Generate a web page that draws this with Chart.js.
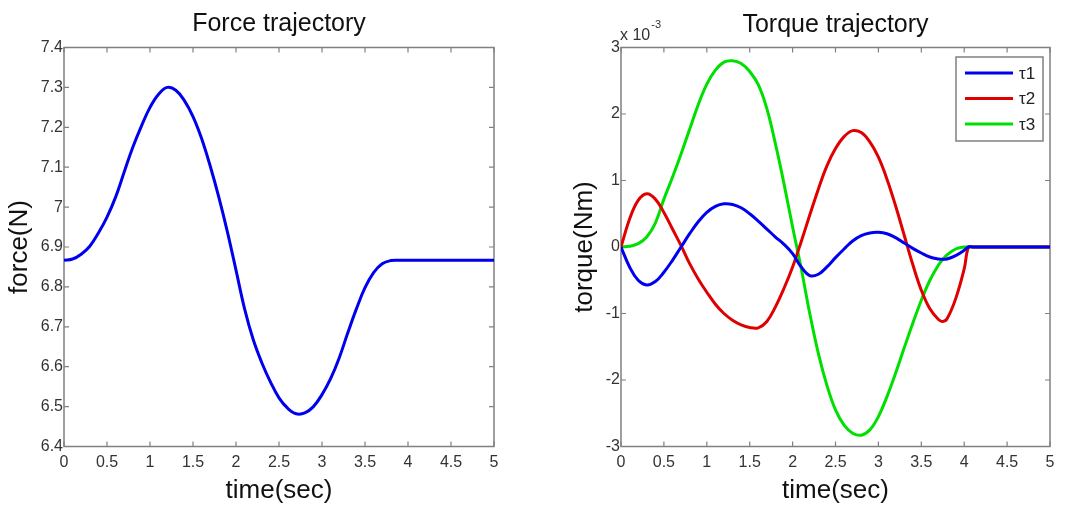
<!DOCTYPE html>
<html>
<head>
<meta charset="utf-8">
<script src="https://cdn.jsdelivr.net/npm/chart.js@4.4.1/dist/chart.umd.min.js"></script>
<style>
  html, body { margin: 0; padding: 0; background: #fff; }
  #wrap { position: relative; width: 1067px; height: 507px; }
  .box { position: absolute; top: 0; height: 507px; }
</style>
</head>
<body>
<div id="wrap">
  <div class="box" style="left:0;width:533px"><canvas id="graficoForca"></canvas></div>
  <div class="box" style="left:533px;width:534px"><canvas id="graficoTorque"></canvas></div>
</div>
<script>
// valores
const forceTime = [0, 0.1, 0.2, 0.3, 0.4, 0.5, 0.6, 0.7, 0.8, 0.9, 1.0, 1.1, 1.2, 1.3, 1.4, 1.5, 1.6, 1.7, 1.8, 1.9,
  2.0, 2.1, 2.2, 2.3, 2.4, 2.5, 2.6, 2.7, 2.8, 2.9, 3.0, 3.1, 3.2, 3.3, 3.4, 3.5, 3.6, 3.7, 3.8, 3.9,
  4.0, 4.1, 4.2, 4.3, 4.4, 4.5, 4.6, 4.7, 4.8, 4.9, 5.0];
const forceN = [6.867, 6.870, 6.882, 6.902, 6.935, 6.975, 7.025, 7.088, 7.150, 7.203, 7.250, 7.283, 7.300, 7.293, 7.267, 7.227, 7.172, 7.103, 7.025, 6.938,
  6.842, 6.745, 6.668, 6.610, 6.562, 6.522, 6.496, 6.482, 6.484, 6.500, 6.530, 6.570, 6.622, 6.685, 6.745, 6.798, 6.836, 6.858, 6.866, 6.867,
  6.867, 6.867, 6.867, 6.867, 6.867, 6.867, 6.867, 6.867, 6.867, 6.867, 6.867];

const torqueTime = [0, 0.1, 0.2, 0.3, 0.4, 0.5, 0.6, 0.7, 0.8, 0.9, 1.0, 1.1, 1.2, 1.3, 1.4, 1.5, 1.6, 1.7, 1.8, 1.9,
  2.0, 2.1, 2.2, 2.3, 2.4, 2.5, 2.6, 2.7, 2.8, 2.9, 3.0, 3.1, 3.2, 3.3, 3.4, 3.5, 3.6, 3.7, 3.75, 3.8, 3.9,
  4.0, 4.05, 4.1, 4.2, 4.3, 4.4, 4.5, 4.6, 4.7, 4.8, 4.9, 5.0];
// em unidades de 10^-3 Nm
const tau1 = [0, -0.30, -0.50, -0.57, -0.52, -0.38, -0.20, 0.00, 0.20, 0.38, 0.52, 0.61, 0.65, 0.64, 0.59, 0.50, 0.39, 0.27, 0.15, 0.04,
  -0.10, -0.30, -0.43, -0.41, -0.30, -0.16, -0.03, 0.09, 0.17, 0.21, 0.22, 0.20, 0.14, 0.06, -0.02, -0.09, -0.15, -0.18, -0.185, -0.18, -0.13,
  -0.05, 0, 0, 0, 0, 0, 0, 0, 0, 0, 0, 0];
const tau2 = [0, 0.42, 0.70, 0.80, 0.72, 0.52, 0.27, 0.02, -0.25, -0.48, -0.68, -0.86, -1.00, -1.10, -1.17, -1.21, -1.215, -1.12, -0.90, -0.62,
  -0.30, 0.08, 0.48, 0.87, 1.22, 1.48, 1.66, 1.75, 1.72, 1.58, 1.35, 1.02, 0.62, 0.18, -0.26, -0.65, -0.93, -1.09, -1.12, -1.08, -0.78,
  -0.33, 0, 0, 0, 0, 0, 0, 0, 0, 0, 0, 0];
const tau3 = [0, 0.01, 0.05, 0.15, 0.36, 0.72, 1.05, 1.40, 1.77, 2.14, 2.45, 2.66, 2.78, 2.80, 2.76, 2.64, 2.44, 2.08, 1.55, 0.95,
  0.30, -0.32, -1.00, -1.60, -2.08, -2.45, -2.68, -2.80, -2.83, -2.75, -2.55, -2.25, -1.90, -1.52, -1.15, -0.80, -0.50, -0.27, -0.19, -0.12, -0.03,
  0, 0, 0, 0, 0, 0, 0, 0, 0, 0, 0, 0];

const timeTicks = [0, 0.5, 1, 1.5, 2, 2.5, 3, 3.5, 4, 4.5, 5];
const forceTicks = [6.4, 6.5, 6.6, 6.7, 6.8, 6.9, 7, 7.1, 7.2, 7.3, 7.4];
const torqueTicks = [-3, -2, -1, 0, 1, 2, 3];
const torqueLabels = ["τ1", "τ2", "τ3"];

Chart.defaults.font.family = "'Liberation Sans', Arial, sans-serif";
Chart.defaults.color = "#333";

const FRAME = "#808080";

// moldura com marcas para dentro, estilo matlab
const moldura = {
  id: "moldura",
  beforeDatasetsDraw(chart) {
    const { ctx, chartArea: a, scales } = chart;
    ctx.save();
    ctx.strokeStyle = FRAME;
    ctx.lineWidth = 1.5;
    ctx.strokeRect(a.left, a.top, a.right - a.left, a.bottom - a.top);
    ctx.lineWidth = 1.2;
    ctx.beginPath();
    scales.x.ticks.forEach(t => {
      const px = scales.x.getPixelForValue(t.value);
      ctx.moveTo(px, a.bottom); ctx.lineTo(px, a.bottom - 5);
      ctx.moveTo(px, a.top); ctx.lineTo(px, a.top + 5);
    });
    scales.y.ticks.forEach(t => {
      const py = scales.y.getPixelForValue(t.value);
      ctx.moveTo(a.left, py); ctx.lineTo(a.left + 5, py);
      ctx.moveTo(a.right, py); ctx.lineTo(a.right - 5, py);
    });
    ctx.stroke();
    ctx.restore();
  }
};

const tituloTopo = {
  id: "tituloTopo",
  afterDraw(chart, args, opts) {
    const { ctx, chartArea: a } = chart;
    ctx.save();
    ctx.fillStyle = "#111";
    ctx.font = "25px 'Liberation Sans', Arial, sans-serif";
    ctx.textAlign = "center";
    ctx.textBaseline = "alphabetic";
    ctx.fillText(opts.text, (a.left + a.right) / 2, opts.y);
    ctx.restore();
  }
};

function xScale() {
  return {
    type: "linear",
    min: 0,
    max: 5,
    afterBuildTicks: s => { s.ticks = timeTicks.map(v => ({ value: v })); },
    afterFit: s => { s.height = 60.5; },
    grid: { display: false, drawTicks: false },
    border: { display: false },
    ticks: { font: { size: 16 }, padding: 6, maxRotation: 0, autoSkip: false, callback: v => String(v) },
    title: { display: true, text: "time(sec)", color: "#111", font: { size: 26 }, padding: { top: 0, bottom: 1 } }
  };
}

new Chart(document.getElementById("graficoForca").getContext("2d"), {
  type: "line",
  data: {
    datasets: [{
      label: "force",
      data: forceTime.map((t, i) => ({ x: t, y: forceN[i] })),
      borderColor: "#0000ee",
      borderWidth: 3,
      pointRadius: 0,
      tension: 0.4,
      fill: false
    }]
  },
  options: {
    responsive: true,
    maintainAspectRatio: false,
    animation: false,
    layout: { padding: { top: 47.5, right: 39, bottom: 0, left: 0 } },
    plugins: {
      legend: { display: false },
      title: { display: false },
      tooltip: { enabled: false },
      tituloTopo: { text: "Force trajectory", y: 31 }
    },
    scales: {
      x: xScale(),
      y: {
        min: 6.4,
        max: 7.4,
        afterBuildTicks: s => { s.ticks = forceTicks.map(v => ({ value: v })); },
        afterFit: s => { s.width = 64; },
        grid: { display: false, drawTicks: false },
        border: { display: false },
        ticks: { font: { size: 16 }, padding: 1, autoSkip: false, callback: v => String(v) },
        title: { display: true, text: "force(N)", color: "#111", font: { size: 26 }, padding: { top: 4, bottom: 0 } }
      }
    }
  },
  plugins: [moldura, tituloTopo]
});

const legendaTorque = {
  id: "legendaTorque",
  afterDraw(chart) {
    const { ctx, chartArea: a } = chart;
    const w = 87, h = 84;
    const x0 = a.right - 7 - w, y0 = a.top + 9.5;
    ctx.save();
    ctx.fillStyle = "#fff";
    ctx.fillRect(x0, y0, w, h);
    ctx.strokeStyle = FRAME;
    ctx.lineWidth = 1.5;
    ctx.strokeRect(x0, y0, w, h);
    ctx.font = "17px 'Liberation Sans', Arial, sans-serif";
    ctx.textBaseline = "middle";
    chart.data.datasets.forEach((ds, i) => {
      const y = y0 + 16 + i * 25.5;
      ctx.strokeStyle = ds.borderColor;
      ctx.lineWidth = 3;
      ctx.beginPath();
      ctx.moveTo(x0 + 9, y); ctx.lineTo(x0 + 57, y);
      ctx.stroke();
      ctx.fillStyle = "#222";
      ctx.fillText(ds.label, x0 + 63, y + 1);
    });
    // multiplicador do eixo y
    ctx.fillStyle = "#333";
    ctx.font = "16px 'Liberation Sans', Arial, sans-serif";
    ctx.textBaseline = "alphabetic";
    ctx.fillText("x 10", a.left - 1, 40);
    const wx = ctx.measureText("x 10").width;
    ctx.font = "11px 'Liberation Sans', Arial, sans-serif";
    ctx.fillText("-3", a.left - 1 + wx + 1, 28);
    ctx.restore();
  }
};

const coresTorque = ["#0000ee", "#e00000", "#00e000"];
const seriesTorque = [tau1, tau2, tau3];

new Chart(document.getElementById("graficoTorque").getContext("2d"), {
  type: "line",
  data: {
    datasets: seriesTorque.map((s, k) => ({
      label: torqueLabels[k],
      data: torqueTime.map((t, i) => ({ x: t, y: s[i] })),
      borderColor: coresTorque[k],
      borderWidth: 3,
      pointRadius: 0,
      tension: 0.4,
      fill: false
    }))
  },
  options: {
    responsive: true,
    maintainAspectRatio: false,
    animation: false,
    layout: { padding: { top: 47.5, right: 17, bottom: 0, left: 0 } },
    plugins: {
      legend: { display: false },
      title: { display: false },
      tooltip: { enabled: false },
      tituloTopo: { text: "Torque trajectory", y: 32 }
    },
    scales: {
      x: xScale(),
      y: {
        min: -3,
        max: 3,
        afterBuildTicks: s => { s.ticks = torqueTicks.map(v => ({ value: v })); },
        afterFit: s => { s.width = 88; },
        grid: { display: false, drawTicks: false },
        border: { display: false },
        ticks: { font: { size: 16 }, padding: 1, autoSkip: false, callback: v => String(v) },
        title: { display: true, text: "torque(Nm)", color: "#111", font: { size: 26 }, padding: { top: 36, bottom: 0 } }
      }
    }
  },
  plugins: [moldura, tituloTopo, legendaTorque]
});
</script>
</body>
</html>
